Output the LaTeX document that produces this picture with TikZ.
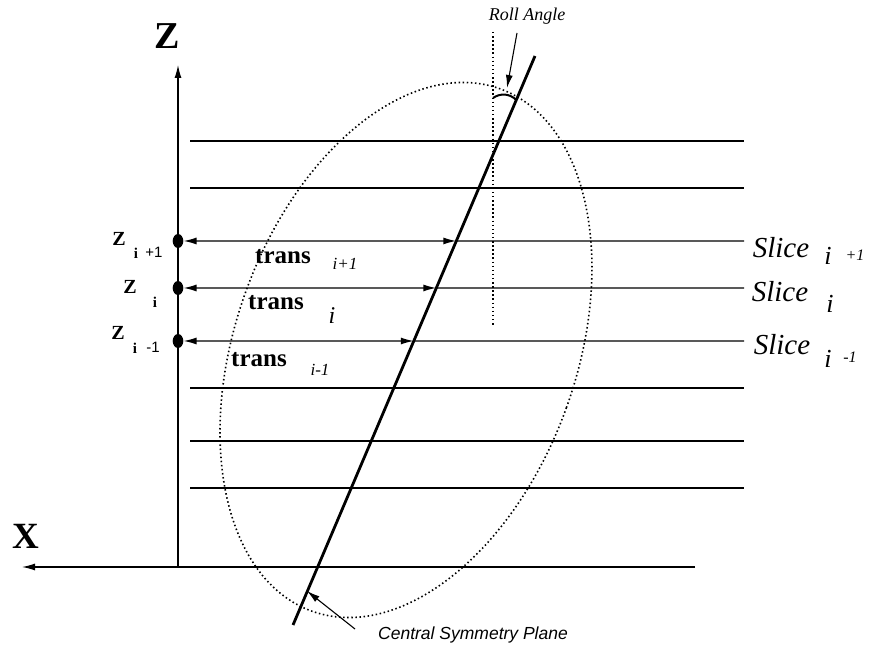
\documentclass[tikz,border=0pt]{standalone}
\usepackage{fontspec}
\setmainfont{Liberation Serif}
\setsansfont{Liberation Sans}
\usetikzlibrary{arrows.meta,positioning,calc,shapes.geometric}
\newcommand\fsz[1]{\fontsize{#1}{#1}\selectfont}
\tikzset{
  axisarr/.style={-{Latex[length=13pt,width=7pt]},line width=1.2pt},
  slc/.style={line width=1.3pt},
  transarr/.style={{Latex[length=13pt,width=7pt]}-{Latex[length=13pt,width=7pt]},line width=1.4pt},
  ptr/.style={-{Latex[length=13pt,width=7pt]},line width=1.1pt},
  plane/.style={line width=2.8pt},
  dotln/.style={line width=1.6pt,dash pattern=on 1.5pt off 2.6pt},
  zdot/.style={ellipse,fill,inner sep=0pt,minimum width=10.6pt,minimum height=14pt},
  txt/.style={inner sep=0pt}
}
\begin{document}
\begin{tikzpicture}[x=1pt,y=1pt]
  \useasboundingbox (0,0) rectangle (870,647);
  % axes
  \coordinate (orig) at (178,80);
  \coordinate (ztip) at (178,582);
  \coordinate (xend) at (695,80);
  \coordinate (xtip) at (22,80);
  \draw[axisarr] (orig) -- (ztip);
  \draw[axisarr] (xend) -- (xtip);
  \node[txt] (zlbl) at (167,611) {\fsz{38}\bfseries Z};
  \node[txt] (xlbl) at (26,111) {\fsz{37}\bfseries X};

  % plain slices
  \foreach \yy in {506,459,259,206,159}
    \draw[slc] (190,\yy) -- (744,\yy);

  % symmetry plane and its envelope
  \coordinate (ctr) at (406,297);
  \draw[dotln,rotate around={-19.8:(ctr)}] (ctr) ellipse [x radius=170.5, y radius=277.6];
  \coordinate (pbot) at (293,22);
  \coordinate (ptop) at (535,591);
  \draw[plane] (pbot) -- (ptop);

  % slices with translations
  \coordinate (c1) at ($(pbot)!0.6749!(ptop)$);
  \coordinate (c2) at ($(pbot)!0.5923!(ptop)$);
  \coordinate (c3) at ($(pbot)!0.4991!(ptop)$);
  \coordinate (e1) at (744,406);
  \coordinate (e2) at (744,359);
  \coordinate (e3) at (744,306);
  \node[zdot] (z1) at (178,406) {};
  \node[zdot] (z2) at (178,359) {};
  \node[zdot] (z3) at (178,306) {};
  \draw[slc] (c1) -- (e1);
  \draw[slc] (c2) -- (e2);
  \draw[slc] (c3) -- (e3);
  \draw[transarr] (z1.east) -- (c1);
  \draw[transarr] (z2.east) -- (c2);
  \draw[transarr] (z3.east) -- (c3);

  % z labels
  \node[txt] (zl1) at (119,408) {\fsz{20}\bfseries Z};
  \node[txt] (zs1) at (136,394) {\fsz{15}\bfseries i};
  \node[txt] (zp1) at (154,395) {\fsz{15}\sffamily +1};
  \node[txt] (zl2) at (130,360) {\fsz{20}\bfseries Z};
  \node[txt] (zs2) at (155,345) {\fsz{15}\bfseries i};
  \node[txt] (zl3) at (118,314) {\fsz{20}\bfseries Z};
  \node[txt] (zs3) at (135,299) {\fsz{15}\bfseries i};
  \node[txt] (zp3) at (153,300) {\fsz{15}\sffamily -1};

  % trans labels
  \node[txt] (tr1) at (283,390) {\fsz{25}\bfseries trans};
  \node[txt] (ts1) at (345,383) {\fsz{17}\itshape i+1};
  \node[txt] (tr2) at (276,344) {\fsz{25}\bfseries trans};
  \node[txt] (ts2) at (332,331) {\fsz{24}\itshape i};
  \node[txt] (tr3) at (259,287) {\fsz{25}\bfseries trans};
  \node[txt] (ts3) at (320,277) {\fsz{17}\itshape i-1};

  % slice labels
  \node[txt] (sl1) at (781,399) {\fsz{29}\itshape Slice};
  \node[txt] (ss1) at (828,391) {\fsz{26}\itshape i};
  \node[txt] (sp1) at (855,392) {\fsz{16}\itshape +1};
  \node[txt] (sl2) at (780,355) {\fsz{29}\itshape Slice};
  \node[txt] (ss2) at (830,343) {\fsz{26}\itshape i};
  \node[txt] (sl3) at (782,302) {\fsz{29}\itshape Slice};
  \node[txt] (ss3) at (828,288) {\fsz{26}\itshape i};
  \node[txt] (sp3) at (850,290) {\fsz{16}\itshape -1};

  % roll angle
  \coordinate (vtop) at (493,615);
  \coordinate (vbot) at (493,320);
  \draw[dotln,line width=1.4pt] (vtop) -- (vbot);
  \coordinate (ra1) at (493,549);
  \coordinate (ra2) at ($(pbot)!0.9227!(ptop)$);
  \draw[line width=2pt] (ra1) to[bend left=40] (ra2);
  \node[txt] (roll) at (527,631) {\fsz{18}\itshape Roll Angle};
  \coordinate (rfrom) at (517,614);
  \coordinate (rtip) at (507,559);
  \draw[ptr] (rfrom) -- (rtip);

  % central symmetry plane
  \node[txt,anchor=west] (csp) at (378,12) {\fsz{17.5}\sffamily\itshape Central Symmetry Plane};
  \coordinate (cfrom) at (355,18);
  \coordinate (ctip) at (307,56);
  \draw[ptr] (cfrom) -- (ctip);
\end{tikzpicture}
\end{document}
